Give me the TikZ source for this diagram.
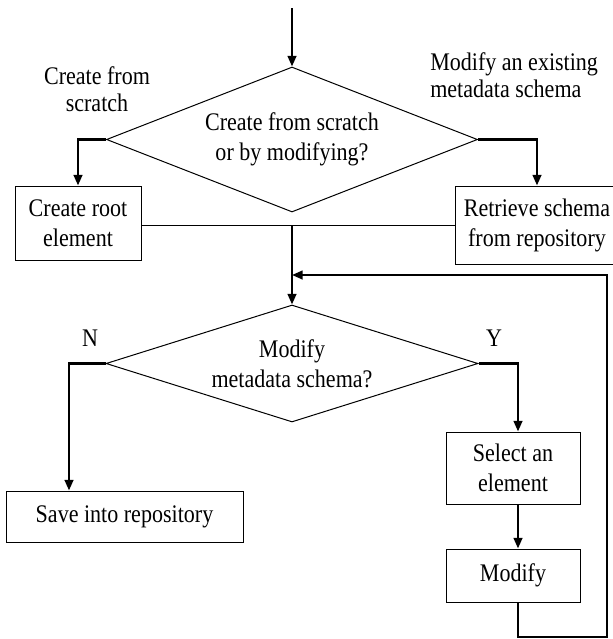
\documentclass[tikz,border=0pt]{standalone}
\usepackage{fontspec}
\setmainfont{Liberation Serif}[FakeStretch=0.87]
\usetikzlibrary{shapes.geometric,arrows.meta}

\begin{document}
\begin{tikzpicture}[x=0.75pt, y=-0.75pt,
	font=\fontsize{19pt}{22.5pt}\selectfont,
	box/.style={draw, line width=0.75pt, align=center, inner sep=0pt},
	decision/.style={draw, diamond, line width=0.75pt, align=center, inner sep=0pt},
	flow/.style={line width=1.7pt, -{Triangle[length=8pt, width=6.5pt]}},
	lbl/.style={inner sep=0pt, font=\fontsize{19pt}{20.25pt}\selectfont}]

	\useasboundingbox (0,0) rectangle (613,639);

	% Decisions
	\node[decision, aspect=2.56, minimum width=278.25pt, minimum height=108.75pt] (dia1) at (292,139.5) {Create from scratch\\or by modifying?};
	\node[decision, aspect=3.18, minimum width=279pt, minimum height=87.75pt] (dia2) at (292,363.5) {Modify\\metadata schema?};

	% Steps
	\node[box, minimum width=94.5pt, minimum height=55.5pt] (root) at (78,223) {Create root\\element};
	\node[box, minimum width=123pt, minimum height=58.5pt] (retrieve) at (537,225) {Retrieve schema\\from repository};
	\node[box, minimum width=177.75pt, minimum height=38.25pt] (save) at (124.5,516.5) {Save into repository};
	\node[box, minimum width=100.5pt, minimum height=54pt] (select) at (513,468) {Select an\\element};
	\node[box, minimum width=100.5pt, minimum height=39.75pt] (modify) at (513,575.5) {Modify};

	% Branch labels
	\node[lbl, align=center] (lscratch) at (97,89.5) {Create from\\scratch};
	\node[lbl, align=left, anchor=west] (lexist) at (430,75.5) {Modify an existing\\metadata schema};
	\node[lbl] (lno) at (90,338) {N};
	\node[lbl] (lyes) at (494,338) {Y};

	% Helper points
	\coordinate (start) at (292,8);
	\coordinate (join) at (292,225);
	\coordinate (back) at (292,275);
	\coordinate (ncol) at (69,363);
	\coordinate (ycol) at (518,363);
	\coordinate (loopc) at (607,637);

	% Edges
	\draw[flow] (start) -- (dia1);
	\draw[flow] (dia1.west) -| (root);
	\draw[flow] (dia1.east) -| (retrieve);
	\draw[line width=0.75pt] (root.east |- join) -- (join -| retrieve.west);
	\draw[flow] (join) -- (dia2);
	\draw[flow] (dia2.west) -| (save.north -| ncol);
	\draw[flow] (dia2.east) -| (select.north -| ycol);
	\draw[flow] (select.south -| ycol) -- (modify.north -| ycol);
	\draw[flow] (modify.south -| ycol) |- (loopc) |- (back);
\end{tikzpicture}
\end{document}
